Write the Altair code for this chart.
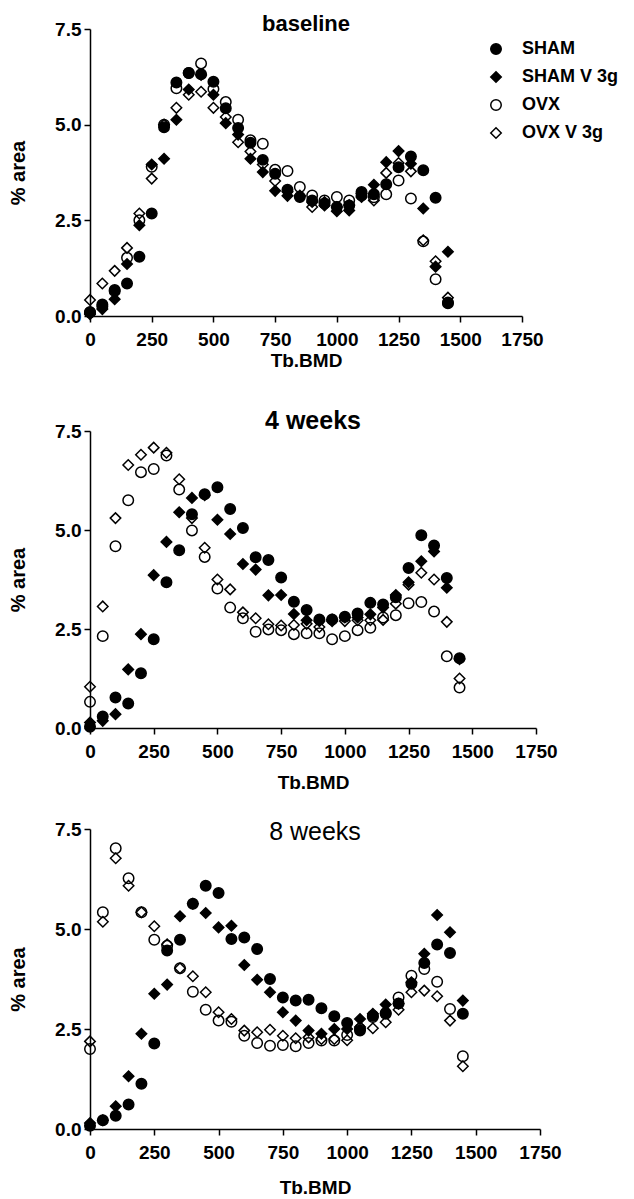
import altair as alt
import pandas as pd

x_vals = list(range(0, 1500, 50))
series_names = ["SHAM", "SHAM V 3g", "OVX", "OVX V 3g"]
panel_titles = ["baseline", "4 weeks", "8 weeks"]
y_ticks = [0, 2.5, 5, 7.5]
x_ticks = [0, 250, 500, 750, 1000, 1250, 1500, 1750]

# baseline
base_sham = [0.10, 0.30, 0.68, 0.85, 1.55, 2.68, 4.93, 6.10, 6.35, 6.32, 6.12, 5.43, 4.91, 4.53, 4.08,
             3.72, 3.30, 3.11, 3.02, 2.94, 2.85, 2.89, 3.24, 3.18, 3.44, 3.89, 4.17, 3.81, 3.09, 0.33]
base_shamv = [0.05, 0.18, 0.44, 1.36, 2.37, 3.96, 4.11, 5.13, 5.92, 6.30, 5.78, 5.04, 4.74, 4.11, 3.76,
              3.27, 3.14, 3.15, 2.98, 2.89, 2.74, 2.76, 3.11, 3.43, 4.02, 4.31, 3.98, 2.81, 1.29, 1.68]
base_ovx = [0.10, 0.25, 0.65, 1.52, 2.50, 3.90, 5.00, 5.95, 6.35, 6.60, 5.93, 5.59, 5.13, 4.59, 4.50,
            3.82, 3.79, 3.37, 3.15, 3.02, 3.11, 3.02, 3.15, 3.10, 3.18, 3.54, 3.07, 1.95, 0.96, 0.35]
base_ovxv = [0.42, 0.85, 1.18, 1.78, 2.68, 3.59, 5.00, 5.44, 5.78, 5.86, 5.44, 5.20, 4.54, 4.30, 3.96,
             3.53, 3.25, 3.12, 2.85, 2.98, 2.85, 2.90, 3.20, 3.02, 3.74, 4.00, 3.78, 1.98, 1.43, 0.48]

# 4 weeks
w4_sham = [0.03, 0.29, 0.77, 0.62, 1.38, 2.24, 3.68, 4.49, 5.40, 5.90, 6.08, 5.53, 5.05, 4.31, 4.24,
           3.80, 3.19, 2.98, 2.74, 2.74, 2.81, 2.89, 3.16, 3.12, 3.30, 4.04, 4.87, 4.61, 3.79, 1.76]
w4_shamv = [0.14, 0.18, 0.35, 1.48, 2.37, 3.86, 4.70, 5.45, 5.81, 5.88, 5.26, 4.90, 4.14, 4.00, 3.35,
            3.36, 2.88, 2.72, 2.70, 2.74, 2.79, 2.79, 2.87, 3.04, 3.36, 3.68, 4.21, 4.46, 3.54, 1.74]
w4_ovx = [0.66, 2.32, 4.59, 5.75, 6.46, 6.54, 6.88, 6.02, 4.99, 4.32, 3.52, 3.04, 2.77, 2.43, 2.49,
          2.47, 2.37, 2.39, 2.39, 2.24, 2.32, 2.47, 2.53, 2.79, 2.85, 3.15, 3.18, 2.94, 1.81, 1.02]
w4_ovxv = [1.04, 3.07, 5.30, 6.64, 6.90, 7.08, 6.95, 6.28, 5.30, 4.55, 3.75, 3.50, 2.92, 2.77, 2.62,
           2.59, 2.60, 2.63, 2.55, 2.70, 2.70, 2.72, 2.72, 2.73, 3.14, 3.62, 3.92, 3.75, 2.68, 1.25]

# 8 weeks
w8_sham = [0.08, 0.22, 0.33, 0.61, 1.13, 2.14, 4.46, 4.73, 5.63, 6.08, 5.90, 4.75, 4.79, 4.50, 3.75,
           3.29, 3.21, 3.23, 3.02, 2.82, 2.65, 2.46, 2.83, 2.88, 3.14, 3.63, 4.15, 4.61, 4.40, 2.88]
w8_shamv = [0.15, 0.22, 0.57, 1.32, 2.38, 3.38, 3.61, 5.32, 5.63, 5.40, 5.04, 5.08, 4.10, 3.73, 3.42,
            2.92, 2.71, 2.46, 2.38, 2.50, 2.50, 2.75, 2.88, 3.11, 3.13, 3.67, 4.38, 5.35, 4.92, 3.21]
w8_ovx = [2.00, 5.42, 7.02, 6.27, 5.42, 4.73, 4.58, 4.02, 3.43, 2.98, 2.71, 2.68, 2.33, 2.15, 2.08,
          2.10, 2.07, 2.15, 2.21, 2.21, 2.35, 2.50, 2.80, 2.90, 3.29, 3.83, 4.00, 3.68, 3.00, 1.82]
w8_ovxv = [2.19, 5.18, 6.77, 6.08, 5.42, 5.07, 4.62, 4.02, 3.82, 3.42, 2.92, 2.75, 2.46, 2.42, 2.48,
           2.33, 2.27, 2.29, 2.25, 2.25, 2.22, 2.55, 2.52, 2.67, 2.98, 3.42, 3.46, 3.32, 2.71, 1.57]

panels_data = [
    [base_sham, base_shamv, base_ovx, base_ovxv],
    [w4_sham, w4_shamv, w4_ovx, w4_ovxv],
    [w8_sham, w8_shamv, w8_ovx, w8_ovxv],
]

FONT = "Liberation Sans"


def make_df(series_lists):
    rows = []
    for name, vals in zip(series_names, series_lists):
        for xv, yv in zip(x_vals, vals):
            rows.append({"series": name, "bmd": xv, "area": yv})
    return pd.DataFrame(rows)


def panel(idx, w, h, tsize, tweight, toffset, xtitle_pad, show_legend):
    df = make_df(panels_data[idx])
    if show_legend:
        lg = alt.Legend(title=None, orient="none", legendX=397, legendY=11,
                        labelFont=FONT, labelFontSize=18, labelFontWeight="bold",
                        labelColor="black", rowPadding=10, labelOffset=17,
                        symbolStrokeWidth=1.5)
    else:
        lg = None
    shape_scale = alt.Scale(domain=series_names, range=["circle", "diamond", "circle", "diamond"])
    fill_scale = alt.Scale(domain=series_names, range=["black", "black", "transparent", "transparent"])
    stroke_scale = alt.Scale(domain=series_names, range=["black", "black", "black", "black"])
    size_scale = alt.Scale(domain=series_names, range=[110, 110, 90, 100])
    ch = alt.Chart(df).mark_point(strokeWidth=1.5, opacity=1).encode(
        x=alt.X("bmd:Q", scale=alt.Scale(domain=[0, 1750], nice=False),
                axis=alt.Axis(values=x_ticks, title="Tb.BMD", titlePadding=xtitle_pad,
                              labelPadding=8, format="d", labelOverlap=False,
                              labelFlush=False)),
        y=alt.Y("area:Q", scale=alt.Scale(domain=[0, 7.5], nice=False),
                axis=alt.Axis(values=y_ticks, format=".1f", title="% area",
                              titlePadding=26, labelPadding=3, titleFontSize=20,
                              labelOverlap=False, labelFlush=False)),
        shape=alt.Shape("series:N", scale=shape_scale, legend=lg),
        fill=alt.Fill("series:N", scale=fill_scale, legend=lg),
        stroke=alt.Stroke("series:N", scale=stroke_scale, legend=lg),
        size=alt.Size("series:N", scale=size_scale, legend=lg),
    ).properties(
        width=w, height=h,
        title=alt.TitleParams(panel_titles[idx], fontSize=tsize, fontWeight=tweight,
                              font=FONT, color="black", offset=toffset, anchor="middle"),
    )
    return ch


p1 = panel(0, 432, 287, 22, "bold", -16, 2, True)
p2 = panel(1, 446, 297, 25, "bold", -12, 12, False)
p3 = panel(2, 450, 300, 25, "normal", -25, 16, False)

lower = alt.vconcat(p2, p3, spacing=28)
chart = alt.vconcat(p1, lower, spacing=39).resolve_scale(
    shape="independent", fill="independent", size="independent", stroke="independent"
).resolve_legend(
    shape="independent", fill="independent", size="independent", stroke="independent"
).configure_view(stroke=None).configure_axis(
    grid=False, domainColor="black", domainWidth=1.5, tickColor="black", tickWidth=1.5,
    tickSize=6, labelFont=FONT, labelFontSize=19, labelFontWeight="bold", labelColor="black",
    titleFont=FONT, titleFontSize=19, titleFontWeight="bold", titleColor="black",
).properties(padding={"left": 0, "right": 2, "top": 5, "bottom": 2})

chart.save("out.html", embed_options={"renderer": "svg", "actions": False})
